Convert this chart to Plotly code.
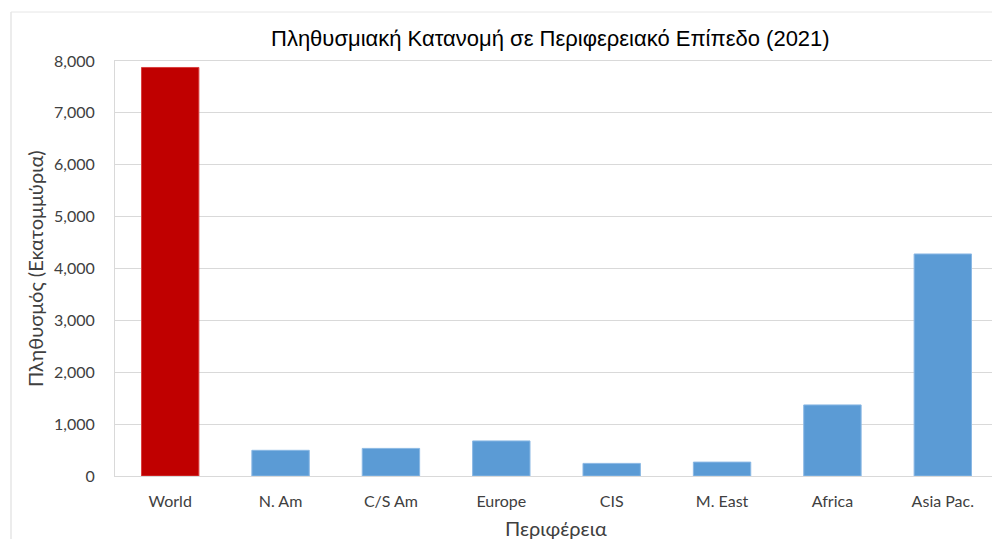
import plotly.graph_objects as go

categories = ["World", "N. Am", "C/S Am", "Europe", "CIS", "M. East", "Africa", "Asia Pac."]
population = [7875, 495, 532, 676, 243, 268, 1370, 4280]
colors = ["#C00000"] + ["#5B9BD5"] * 7
line_colors = ["#d94040"] + ["#8ab8e4"] * 7

title_text = "Πληθυσμιακή Κατανομή σε Περιφερειακό Επίπεδο (2021)"
x_title = "Περιφέρεια"
y_title = "Πληθυσμός (Εκατομμύρια)"

# the page body has an 8px margin, so the figure is drawn from (8, 8)
OFF = 8
W, H = 1000 - OFF, 539 - OFF
PL, PR, PT, PB = 115, 998, 61, 476  # plot area in window pixels
L, R, T, B = PL - OFF, 1000 - PR, PT - OFF, 539 - PB
pw = PR - PL
ph = PB - PT


def px(x):
    return (x - PL) / pw


def py(y):
    return (PB - y) / ph


fig = go.Figure(go.Bar(
    x=categories, y=population,
    marker=dict(color=colors, line=dict(color=line_colors, width=1)),
    width=0.52,
))

tick_font = dict(family="Lato, Open Sans, sans-serif", size=16, color="#404040")

fig.update_layout(
    width=W, height=H,
    margin=dict(l=L, r=R, t=T, b=B),
    paper_bgcolor="white", plot_bgcolor="white",
    showlegend=False,
    xaxis=dict(showgrid=False, showline=True, linecolor="#d9d9d9", linewidth=1, mirror=True,
               ticks="", tickfont=tick_font, ticklabelstandoff=11),
    yaxis=dict(range=[0, 8000], dtick=1000, tickformat=",", showgrid=True, gridcolor="#d9d9d9",
               gridwidth=1, showline=True, linecolor="#d9d9d9", mirror=True, zeroline=False,
               ticks="", tickfont=tick_font, ticklabelstandoff=16),
    annotations=[
        dict(text=title_text, xref="paper", yref="paper", x=px(550), y=py(38),
             xanchor="center", yanchor="middle", showarrow=False,
             font=dict(family="Liberation Sans, Arial, sans-serif", size=22, color="#000000")),
        dict(text=x_title, xref="paper", yref="paper", x=px(556), y=py(528),
             xanchor="center", yanchor="middle", showarrow=False,
             font=dict(family="Lato, Open Sans, sans-serif", size=20, color="#404040")),
        dict(text=y_title, xref="paper", yref="paper", x=px(35), y=py(269),
             xanchor="center", yanchor="middle", showarrow=False, textangle=-90,
             font=dict(family="Lato, Open Sans, sans-serif", size=20, color="#404040")),
    ],
    shapes=[
        dict(type="line", xref="paper", yref="paper",
             x0=px(11), x1=px(11), y0=py(12), y1=py(545),
             line=dict(color="#d9d9d9", width=1)),
        dict(type="line", xref="paper", yref="paper",
             x0=px(11), x1=px(1005), y0=py(12), y1=py(12),
             line=dict(color="#e6e6e6", width=1)),
    ],
)

fig.write_html("out.html")
